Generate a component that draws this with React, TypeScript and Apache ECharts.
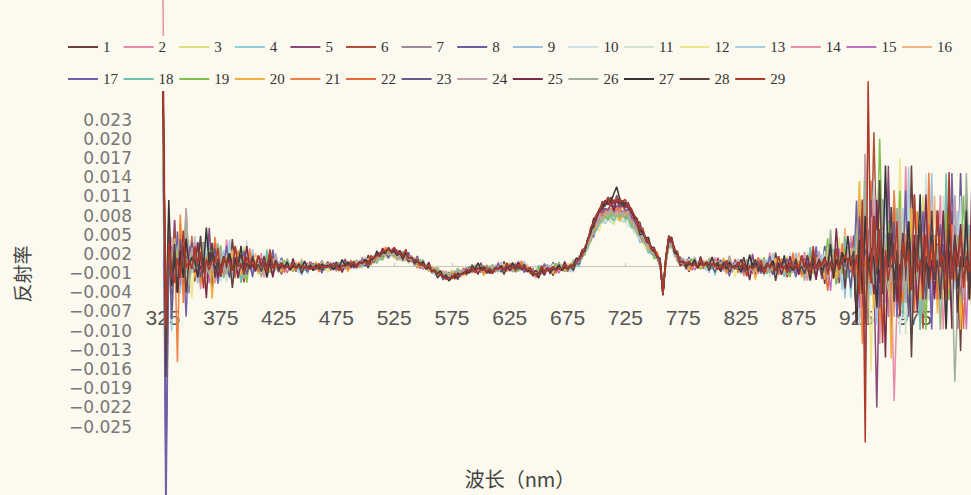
import React, { useEffect, useRef } from "react";
import * as echarts from "echarts";

// ---------- data ----------
const WL_START = 325; // nm
const WL_STEP = 2.5; // nm
const NOISE_SEGMENT = 25; // nm per envelope segment

const seriesNames = [
  "1", "2", "3", "4", "5", "6", "7", "8", "9", "10", "11", "12", "13", "14", "15",
  "16", "17", "18", "19", "20", "21", "22", "23", "24", "25", "26", "27", "28", "29",
];

const seriesColors = [
  "#6b3f3a", "#e58aa8", "#dede78", "#8fd0d8", "#8a4a7a", "#b0503a", "#9a8a9a",
  "#6a5aa0", "#9ac0e0", "#cfe2e8", "#d3e3cc", "#eee68c", "#a8cce0", "#e890a8",
  "#c070c0", "#f0b880", "#7060a8", "#70c0b0", "#80c050", "#f0b040", "#f08040",
  "#e86838", "#6a5890", "#c0a0b0", "#7a2a4a", "#a0b098", "#3a3535", "#5a4040",
  "#b03a2a",
];

// relative height of each curve (peak at ~718 nm)
const seriesGains = [
  1.0, 0.86, 0.74, 0.76, 0.97, 1.0, 0.84, 0.82, 0.75, 0.73, 0.74, 0.77, 0.78, 0.88,
  0.85, 0.8, 0.83, 0.76, 0.79, 0.81, 0.87, 0.9, 0.92, 0.84, 0.98, 0.8, 1.01, 0.99, 1.02,
];

// mean (upper) spectrum, 325 nm .. 1025 nm every 2.5 nm
const meanSpectrum = [
  0.027, -0.011, 0.004, -0.002, 0.001, 0.0008, 0.0008, 0.0008, 0.0008, 0.0008,
  0.0008, 0.0008, 0.0007, 0.0007, 0.0007, 0.0006, 0.0006, 0.0006, 0.0006, 0.0006,
  0.0006, 0.0005, 0.0005, 0.0005, 0.0005, 0.0004, 0.0004, 0.0004, 0.0004, 0.0004,
  0.0004, 0.0003, 0.0003, 0.0003, 0.0003, 0.0002, 0.0002, 0.0002, 0.0002, 0.0002,
  0.0001, 0.0001, 0.0001, 0.0, 0.0, 0.0, 0.0, 0.0, -0.0001, -0.0001,
  -0.0001, 0.0, 0.0, 0.0, -0.0001, 0.0, 0.0, 0.0001, 0.0, 0.0,
  0.0, 0.0001, 0.0001, 0.0002, 0.0002, 0.0003, 0.0004, 0.0004, 0.0005, 0.0006,
  0.0007, 0.0008, 0.001, 0.0013, 0.0017, 0.002, 0.0022, 0.0024, 0.0025, 0.0025,
  0.0024, 0.0022, 0.002, 0.0019, 0.0017, 0.0015, 0.0012, 0.001, 0.0008, 0.0005,
  0.0003, 0.0, -0.0002, -0.0005, -0.0008, -0.0011, -0.0013, -0.0015, -0.0016, -0.0017,
  -0.0016, -0.0015, -0.0014, -0.0012, -0.001, -0.0008, -0.0006, -0.0004, -0.0003, -0.0003,
  -0.0004, -0.0005, -0.0006, -0.0006, -0.0005, -0.0004, -0.0003, -0.0003, -0.0002, -0.0002,
  -0.0001, -0.0001, -0.0001, 0.0, -0.0001, -0.0002, -0.0004, -0.0007, -0.001, -0.0012,
  -0.001, -0.0008, -0.0006, -0.0005, -0.0004, -0.0004, -0.0003, -0.0003, -0.0002, -0.0002,
  -0.0002, -0.0001, 0.0002, 0.0006, 0.0012, 0.002, 0.003, 0.0042, 0.0055, 0.0068,
  0.008, 0.0088, 0.0095, 0.0099, 0.0101, 0.0102, 0.0101, 0.0103, 0.0102, 0.01,
  0.0099, 0.0096, 0.0088, 0.008, 0.007, 0.006, 0.0052, 0.0045, 0.0038, 0.0031,
  0.0024, 0.0017, 0.0008, -0.0042, 0.001, 0.0045, 0.0042, 0.0028, 0.0015, 0.0008,
  0.0005, 0.0005, 0.0004, 0.0004, 0.0004, 0.0003, 0.0004, 0.0004, 0.0003, 0.0003,
  0.0003, 0.0003, 0.0002, 0.0002, 0.0002, 0.0001, 0.0001, 0.0, 0.0, 0.0,
  0.0, 0.0, 0.0, -0.0001, 0.0, 0.0, 0.0, 0.0001, 0.0, 0.0,
  0.0, 0.0, 0.0, 0.0, 0.0, 0.0001, 0.0, 0.0, 0.0, 0.0,
  0.0, 0.0, 0.0001, 0.0001, 0.0001, 0.0002, 0.0002, 0.0002, 0.0003, 0.0003,
  0.0004, 0.0004, 0.0005, 0.0005, 0.0006, 0.0006, 0.0007, 0.0007, 0.0008, 0.0008,
  0.0008, 0.0008, 0.0008, 0.0008, 0.0008, 0.0008, 0.0008, 0.0008, 0.0008, 0.0008,
  0.0008, 0.0008, 0.0008, 0.0008, 0.0008, 0.0008, 0.0008, 0.0008, 0.0008, 0.0008,
  0.0008, 0.0008, 0.0008, 0.0008, 0.0008, 0.0008, 0.0008, 0.0008, 0.0008, 0.0008,
  0.0008, 0.0008, 0.0008, 0.0008, 0.0008, 0.0008, 0.0008, 0.0008, 0.0008, 0.0008,
  0.0008,
];

const noiseEnvelope = [
  0.0085, 0.0055, 0.0038, 0.0025, 0.0013, 0.001, 0.001, 0.001, 0.001, 0.0009,
  0.0009, 0.001, 0.001, 0.001, 0.001, 0.0012, 0.001, 0.0009, 0.0012, 0.0016,
  0.002, 0.0022, 0.003, 0.0055, 0.017, 0.015, 0.014, 0.014,
];

// hand-drawn jitter textures (-9..9, 9 = envelope)
const noiseRows = [
  [3, -4, 6, -2, 5, -7, 2, -3, 8, -5, 1, -6, 4, -2, 7, -4, 3, -8, 5, -1, 6, -3, 2, -5, 9, -4, 3, -6, 1, -2, 5, -7, 4, -3, 6, -1, 2, -5, 7, -4, 3, -9, 5, -2, 4, -6, 1],
  [-5, 2, -3, 7, -1, 4, -6, 3, -2, 8, -4, 5, -7, 2, -1, 6, -3, 4, -8, 1, -5, 7, -2, 3, -6, 2, -4, 9, -3, 5, -1, 4, -7, 3, -2, 6, -5, 1, -3, 8, -6, 2, -4, 5, -2, 7, -3],
  [1, -6, 4, -3, 9, -2, 5, -4, 2, -7, 3, -1, 6, -5, 4, -2, 8, -6, 1, -3, 5, -4, 7, -1, 2, -8, 6, -3, 4, -5, 1, -2, 7, -6, 3, -4, 5, -1, 8, -3, 2, -7, 4, -5, 6, -2, 3],
  [-2, 5, -7, 1, -4, 6, -3, 8, -5, 2, -1, 7, -6, 3, -4, 5, -2, 4, -9, 3, -1, 6, -3, 2, -5, 7, -4, 1, -6, 3, -2, 8, -3, 5, -7, 2, -4, 1, -5, 6, -2, 4, -8, 3, -1, 5, -6],
  [4, -1, 3, -6, 2, -5, 7, -3, 1, -4, 6, -2, 5, -8, 3, -4, 2, -1, 6, -7, 4, -2, 3, -5, 8, -3, 1, -6, 5, -2, 4, -3, 7, -1, 2, -6, 9, -4, 3, -2, 5, -5, 1, -3, 6, -4, 2],
  [-3, 7, -2, 4, -5, 1, -8, 3, -6, 4, -2, 5, -1, 6, -3, 2, -7, 5, -4, 1, -3, 8, -5, 2, -2, 6, -4, 3, -1, 7, -6, 2, -5, 4, -3, 1, -7, 3, -2, 5, -4, 6, -1, 3, -6, 2, -5],
  [6, -3, 1, -5, 4, -2, 3, -7, 5, -1, 2, -6, 8, -4, 3, -2, 5, -3, 1, -8, 4, -5, 6, -2, 3, -1, 7, -4, 2, -6, 5, -3, 1, -2, 6, -4, 3, -5, 2, -7, 4, -1, 5, -3, 2, -6, 4],
  [-1, 4, -5, 2, -3, 7, -4, 1, -6, 3, -5, 2, -2, 8, -3, 4, -6, 2, -1, 5, -4, 3, -7, 6, -2, 1, -5, 4, -3, 9, -2, 6, -4, 1, -3, 5, -6, 2, -4, 3, -1, 7, -5, 2, -3, 4, -2],
];
// amplitude of each texture level, as a fraction of the envelope (level 0..9)
const jitterLevels = [0, 0.02, 0.06, 0.12, 0.2, 0.3, 0.42, 0.57, 0.75, 1.0];

// isolated spikes: [series number, wavelength nm, value]
const spikes: [number, number, number][] = [
  [14, 325, 0.042],
  [17, 327.5, -0.04],
  [8, 327.5, -0.032],
  [21, 337.5, -0.0149],
  [21, 340, 0.0081],
  [27, 717.5, 0.0125],
  [29, 932.5, -0.0275],
  [29, 935, 0.029],
  [6, 940, 0.021],
  [19, 945, 0.02],
  [5, 942.5, -0.022],
  [2, 957.5, -0.021],
  [12, 962.5, 0.017],
  [26, 1010, -0.018],
];

const xTickValues = [325, 375, 425, 475, 525, 575, 625, 675, 725, 775, 825, 875, 925, 975];
const yTickValues = [
  0.023, 0.02, 0.017, 0.014, 0.011, 0.008, 0.005, 0.002, -0.001, -0.004, -0.007,
  -0.01, -0.013, -0.016, -0.019, -0.022, -0.025,
];

const X_MIN = 325;
const X_MAX = 1024;
const Y_MIN = -0.0357;
const Y_MAX = 0.0417;
const ZERO_FROM_BOTTOM = 228; // px between x axis (y = 0) and the bottom of the grid

const BG = "#fcf9ee";

function buildSeriesData(s: number): [number, number][] {
  const row = noiseRows[s % noiseRows.length];
  const shift = (s * 5) % row.length;
  const gain = seriesGains[s];
  const pts: [number, number][] = meanSpectrum.map((m, i) => {
    const wl = WL_START + i * WL_STEP;
    const seg = Math.min(noiseEnvelope.length - 1, Math.floor((wl - WL_START) / NOISE_SEGMENT));
    const k = row[(i + shift) % row.length];
    const j = (k < 0 ? -1 : 1) * jitterLevels[Math.abs(k)];
    return [wl, m * gain + j * noiseEnvelope[seg]];
  });
  spikes.forEach(([sn, wl, val]) => {
    if (sn === s + 1) {
      const idx = Math.round((wl - WL_START) / WL_STEP);
      if (pts[idx]) pts[idx] = [pts[idx][0], val];
    }
  });
  return pts;
}

function fmtY(v: number): string {
  const r = Math.round(v * 1000) / 1000;
  return (r < 0 ? "\u2212" : "") + Math.abs(r).toFixed(3);
}

export default function App() {
  const ref = useRef<HTMLDivElement>(null);

  useEffect(() => {
    document.body.style.margin = "0";
    document.body.style.background = BG;
    if (!ref.current) return;
    const chart = echarts.init(ref.current, undefined, { renderer: "svg" });

    const legendBase = {
      left: 63,
      icon: "rect",
      itemWidth: 30,
      itemHeight: 2,
      itemGap: 5.6,
      backgroundColor: BG,
      z: 10,
      selectedMode: false,
      formatter: (name: string) => `{n|${name}}`,
      textStyle: {
        fontFamily: "Liberation Serif",
        fontSize: 15,
        color: "#333",
        rich: {
          n: {
            width: 15,
            height: 16,
            backgroundColor: "rgba(252,249,238,0.01)",
            fontFamily: "Liberation Serif",
            fontSize: 15,
            color: "#333",
          },
        },
      },
    };

    const option: any = {
      animation: false,
      backgroundColor: BG,
      color: seriesColors,
      grid: {
        left: 163,
        right: 0,
        top: 0,
        bottom: 0,
        containLabel: false,
        outerBoundsMode: "none",
      },
      legend: [
        {
          ...legendBase,
          data: seriesNames.slice(0, 16),
          top: 36,
          padding: [3, 5, 14, 5],
        },
        {
          ...legendBase,
          data: seriesNames.slice(16),
          top: 68,
          padding: [3, 5, 4, 5],
        },
      ],
      xAxis: [
        {
          type: "value",
          min: X_MIN,
          max: X_MAX,
          axisLine: { show: true, onZero: true, lineStyle: { color: "#cbc3b8", width: 1 } },
          axisTick: {
            show: true,
            inside: true,
            length: 4,
            customValues: xTickValues,
            lineStyle: { color: "#cbc3b8" },
          },
          axisLabel: { show: false },
          splitLine: { show: false },
        },
        {
          type: "value",
          min: X_MIN,
          max: X_MAX,
          position: "bottom",
          offset: -ZERO_FROM_BOTTOM,
          axisLine: { show: false, onZero: false },
          axisTick: { show: false },
          splitLine: { show: false },
          axisLabel: {
            customValues: xTickValues,
            margin: 40,
            fontFamily: "Liberation Sans",
            fontSize: 21,
            color: "#555",
          },
        },
      ],
      yAxis: {
        type: "value",
        min: Y_MIN,
        max: Y_MAX,
        axisLine: { show: false },
        axisTick: { show: false },
        splitLine: { show: false },
        axisLabel: {
          customValues: yTickValues,
          formatter: (v: number) => fmtY(v),
          margin: 31,
          fontFamily: "DejaVu Sans",
          fontSize: 17,
          color: "#777",
        },
      },
      graphic: [
        {
          type: "text",
          x: 520,
          y: 478,
          style: {
            text: "波长（nm）",
            align: "center",
            verticalAlign: "middle",
            fontFamily: "Noto Sans CJK SC",
            fontSize: 20,
            fill: "#444",
          },
        },
        {
          type: "text",
          x: 21,
          y: 274,
          rotation: Math.PI / 2,
          style: {
            text: "反射率",
            align: "center",
            verticalAlign: "middle",
            fontFamily: "Noto Sans CJK SC",
            fontSize: 19,
            fill: "#444",
          },
        },
      ],
      series: seriesNames.map((name, s) => ({
        name,
        type: "line",
        xAxisIndex: 0,
        symbol: "none",
        clip: true,
        lineStyle: { width: 1.5 },
        data: buildSeriesData(s),
      })),
    };

    chart.setOption(option);
    return () => chart.dispose();
  }, []);

  return <div ref={ref} style={{ width: 971, height: 495 }} />;
}
